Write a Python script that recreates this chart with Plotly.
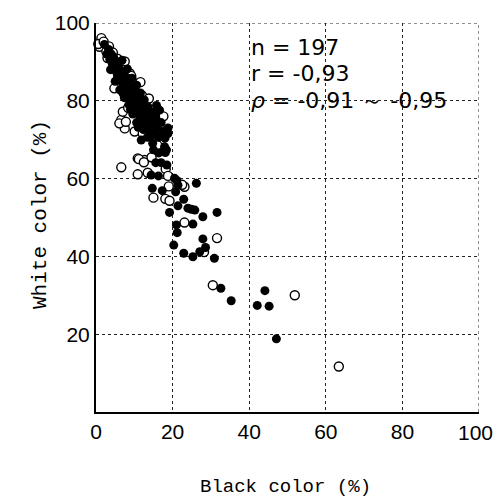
import plotly.graph_objects as go

# Filled circles (Black %, White %)
filled_x = [2.2, 2.8, 3.3, 3.6, 4.0, 4.3, 4.6, 4.9, 5.2, 5.5, 5.8, 6.0, 6.3, 6.6, 6.9, 7.2, 7.5, 7.8, 8.0, 8.3,
            8.5, 8.8, 9.0, 9.3, 9.5, 9.8, 10.0, 10.3, 10.5, 10.8, 11.0, 11.3, 11.5, 11.8, 12.0, 12.3, 12.6, 12.9, 13.2, 13.5,
            13.8, 14.1, 14.4, 14.7, 15.0, 15.3, 15.6, 16.0, 16.3, 16.6, 17.0, 17.5, 18.0, 18.8, 18.8, 17.9, 11.8, 14.8, 14.4, 18.4,
            16.4, 3.8, 5.0, 6.2, 7.4, 8.6, 9.6, 10.6, 12.4, 13.4, 6.8, 8.2, 9.4, 10.6, 11.6, 12.6, 13.6, 14.8, 15.8, 7.0,
            9.0, 11.0, 15.0, 18.1, 15.6, 17.0, 18.5, 16.3, 21.1, 26.2, 14.7, 17.3, 20.8, 22.9, 21.4, 19.2, 24.0, 24.9, 25.8, 27.9,
            31.6, 25.3, 21.0, 21.2, 27.9, 20.3, 28.6, 27.1, 22.9, 25.3, 30.9, 32.6, 35.3, 44.1, 42.1, 45.2, 47.1, 14.4, 20.5, 21.4]
filled_y = [94.5, 92.0, 93.2, 90.6, 92.0, 89.4, 91.2, 88.0, 90.2, 87.0, 89.2, 85.8, 88.0, 86.4, 84.6, 87.2, 85.2, 83.4, 86.0, 81.8,
            84.4, 82.6, 80.4, 83.6, 81.4, 79.2, 82.2, 80.2, 77.6, 81.0, 78.6, 76.4, 79.6, 77.4, 75.0, 78.4, 76.2, 73.8, 77.2, 75.0,
            72.6, 76.0, 73.8, 71.4, 74.6, 72.4, 75.8, 73.2, 70.6, 77.6, 74.4, 72.1, 70.4, 71.6, 73.0, 68.2, 69.9, 69.1, 71.2, 67.4,
            66.6, 88.0, 85.0, 82.8, 80.8, 79.0, 76.6, 74.4, 72.6, 70.6, 90.4, 88.2, 85.8, 84.0, 82.0, 80.2, 78.4, 77.0, 78.8, 82.0,
            77.8, 73.2, 67.4, 66.7, 64.1, 64.1, 63.5, 60.7, 59.5, 58.8, 57.5, 56.9, 56.6, 54.7, 53.0, 51.3, 52.4, 52.1, 51.9, 50.2,
            51.3, 48.3, 48.1, 46.1, 44.5, 42.9, 42.3, 41.2, 40.8, 39.9, 39.5, 31.8, 28.6, 31.2, 27.4, 27.2, 18.8, 60.9, 60.1, 58.3]

# Open circles (Black %, White %)
open_x = [1.4, 0.9, 0.6, 2.0, 2.7, 3.4, 4.4, 5.6, 7.5, 7.1, 8.8, 4.8, 5.8, 9.8, 11.6, 10.2, 12.0, 13.8, 6.6, 7.5,
          13.1, 7.0, 6.1, 7.8, 8.4, 10.1, 12.2, 10.9, 12.7, 6.6, 11.2, 12.5, 10.9, 13.5, 18.2, 18.8, 23.1, 22.5, 15.0, 18.1,
          19.2, 23.1, 31.6, 28.2, 30.5, 51.9, 63.4, 15.2, 16.8, 9.2, 3.0, 14.5, 16.0, 19.0, 17.6]
open_y = [96.1, 93.9, 94.6, 95.2, 92.7, 94.0, 92.4, 90.8, 90.1, 88.0, 87.1, 83.2, 86.0, 84.6, 84.8, 80.6, 81.4, 80.6, 75.1, 72.9,
          76.3, 77.2, 74.2, 74.6, 78.2, 72.1, 71.6, 65.2, 64.8, 62.9, 65.0, 64.2, 61.1, 61.5, 62.5, 60.7, 57.9, 58.4, 55.1, 54.8,
          54.3, 48.7, 44.7, 41.1, 32.6, 30.0, 11.7, 70.2, 72.8, 86.4, 91.0, 65.5, 68.6, 58.0, 76.0]

x_ticks = [0, 20, 40, 60, 80, 100]
x_ticktext = ["0", "20", "40", "60", "80", ""]   # the "100" label is placed just inside the edge below
x_last_label = "100"
y_ticks = [20, 40, 60, 80, 100]
y_ticktext = ["20", "40", "60", "80", "100"]
stats = ["n = 197", "r = -0,93", "<i>ρ</i> = -0,91 ～ -0,95"]
x_title = "Black color (%)"
y_title = "White color (%)"

fig = go.Figure()
fig.add_trace(go.Scatter(x=open_x, y=open_y, mode="markers",
                         marker=dict(symbol="circle", size=9, color="white",
                                     line=dict(color="black", width=1.4)),
                         showlegend=False, cliponaxis=False))
fig.add_trace(go.Scatter(x=filled_x, y=filled_y, mode="markers",
                         marker=dict(symbol="circle", size=9, color="black",
                                     line=dict(color="black", width=0)),
                         showlegend=False, cliponaxis=False))

ys = [93.8, 86.9, 80.0]
for t, yy in zip(stats, ys):
    fig.add_annotation(x=40.0, y=yy, xref="x", yref="y", text=t, showarrow=False,
                       xanchor="left", yanchor="middle",
                       font=dict(family="DejaVu Sans", size=22, color="black"))

tickfont = dict(family="Liberation Sans, Arial", size=21, color="black")
fig.add_annotation(x=x_ticks[-1], xref="x", y=0, yref="paper", text=x_last_label, showarrow=False,
                   xanchor="center", yanchor="middle", xshift=-4, yshift=-20, font=tickfont)

titlefont_x = dict(family="Liberation Mono, DejaVu Sans Mono", size=19, color="black")
titlefont_y = dict(family="Liberation Mono, DejaVu Sans Mono", size=21, color="black")
fig.add_annotation(x=0, y=0, text=x_title, showarrow=False,
                   font=titlefont_x, xanchor="center", yanchor="middle")
fig.add_annotation(text=y_title, x=0, y=0, showarrow=False, textangle=-90, font=titlefont_y,
                   xanchor="center", yanchor="middle")

fig.update_xaxes(range=[0, 100], tickvals=x_ticks, ticktext=x_ticktext,
                 showline=True, linecolor="black", linewidth=2, mirror=False,
                 showgrid=True, gridcolor="#222", griddash="dot", gridwidth=1,
                 zeroline=False, ticks="", tickfont=tickfont, automargin=False,
                 ticklabeloverflow="allow")
fig.update_yaxes(range=[0, 100], tickvals=y_ticks, ticktext=y_ticktext,
                 showline=True, linecolor="black", linewidth=2, mirror=False,
                 showgrid=True, gridcolor="#222", griddash="dot", gridwidth=1,
                 zeroline=False, ticks="", tickfont=tickfont, automargin=False,
                 ticklabeloverflow="allow")

# dotted top and right borders at 100
fig.add_shape(type="line", xref="x", yref="y", x0=0, x1=100, y0=100, y1=100,
              line=dict(color="#222", width=1, dash="dot"))
fig.add_shape(type="line", xref="x", yref="y", x0=100, x1=100, y0=0, y1=100,
              line=dict(color="#222", width=1, dash="dot"))

L, R, T, B = 96, 17, 23, 85
W, H = 496, 497
fig.update_layout(width=W, height=H, margin=dict(l=L, r=R, t=T, b=B),
                  plot_bgcolor="white", paper_bgcolor="white")

pw, ph = W - L - R, H - T - B
fig.layout.annotations[-2].update(xref="paper", yref="paper", x=(285 - L) / pw, y=(H - B - 487) / ph)
fig.layout.annotations[-1].update(xref="paper", yref="paper", x=(40 - L) / pw, y=(H - B - 215) / ph)

fig.write_html("out.html", config={"displayModeBar": False})

# remove the browser's default page margin so the figure sits at the window's corner
with open("out.html", "r", encoding="utf-8") as f:
    html = f.read()
html = html.replace("<body>", '<body style="margin:0;padding:0;">', 1)
with open("out.html", "w", encoding="utf-8") as f:
    f.write(html)
